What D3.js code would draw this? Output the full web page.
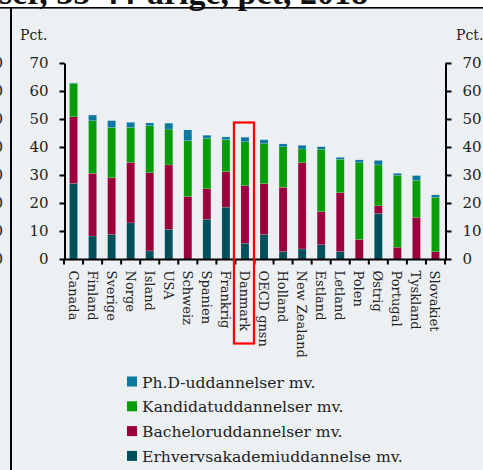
<!DOCTYPE html>
<html><head><meta charset="utf-8">
<script src="https://cdn.jsdelivr.net/npm/d3@7"></script>
<style>body{margin:0;background:#fff}svg{display:block}</style>
</head><body><div id="c"></div>
<script>
const categories = ["Canada","Finland","Sverige","Norge","Island","USA","Schweiz","Spanien","Frankrig","Danmark","OECD gnsn","Holland","New Zealand","Estland","Letland","Polen","Østrig","Portugal","Tyskland","Slovakiet"];
const erhverv   = [27.0, 8.2, 8.8, 12.9, 2.9, 10.6, 0.0, 14.2, 18.5, 5.6, 8.8, 2.7, 3.6, 5.1, 2.7, 0.0, 16.3, 0.0, 0.0, 0.0];
const bachelor  = [23.8, 22.4, 20.2, 21.6, 27.9, 23.0, 22.3, 10.9, 12.7, 20.6, 18.1, 22.9, 30.8, 11.8, 21.0, 7.0, 2.7, 4.2, 14.9, 2.6];
const kandidat  = [11.9, 18.8, 18.0, 12.5, 16.8, 12.8, 20.0, 18.0, 11.5, 15.7, 14.3, 14.5, 4.9, 22.3, 11.9, 27.4, 14.6, 25.7, 13.2, 19.4];
const phd       = [0.2, 2.0, 2.4, 1.8, 1.0, 2.1, 3.8, 1.1, 0.9, 1.6, 1.4, 1.0, 1.3, 0.9, 0.7, 1.0, 1.6, 0.7, 1.7, 0.9];
const seriesNames = ["Erhvervsakademiuddannelse mv.","Bacheloruddannelser mv.","Kandidatuddannelser mv.","Ph.D-uddannelser mv."];
const seriesColors = ["#004f5b","#9b003d","#089c08","#0b78a0"];
const yTicks = [0,10,20,30,40,50,60,70];
const highlight = "Danmark";

const W = 483, H = 470;
const svg = d3.select("#c").append("svg").attr("width", W).attr("height", H);
const serif = "'DejaVu Serif', 'Liberation Serif', serif";
const tserif = "'Liberation Serif', serif";

// backgrounds
svg.append("rect").attr("width", W).attr("height", H).attr("fill", "#ecf0f3");
svg.append("rect").attr("width", W).attr("height", 7).attr("fill", "#ffffff");
svg.append("text").attr("x", -1).attr("y", 4).attr("font-family", tserif).attr("font-weight", "bold")
  .attr("font-size", 34).attr("fill", "#111").text("ser, 35-44-årige, pct, 2018");
svg.append("rect").attr("x", 0).attr("y", 7).attr("width", W).attr("height", 1.6).attr("fill", "#000");
svg.append("rect").attr("x", 10).attr("y", 7).attr("width", 2).attr("height", H).attr("fill", "#000");

const y = d3.scaleLinear().domain([0,70]).range([259, 63]);
const x = d3.scaleBand().domain(categories).range([64, 445]).paddingInner(0.58).paddingOuter(0.29);
const xb = d3.scaleBand().domain(categories).range([64, 445]);

// neighbour panel cut digits
svg.append("g").selectAll("text").data(yTicks).join("text")
  .attr("x", 3).attr("y", d => y(d) + 5).attr("text-anchor", "end")
  .attr("font-family", serif).attr("font-size", 15).attr("fill", "#222").text(d => d);

const rows = categories.map((c,i) => ({cat:c, e:erhverv[i], b:bachelor[i], k:kandidat[i], p:phd[i]}));
const stack = d3.stack().keys(["e","b","k","p"]);
const layers = stack(rows);

svg.append("g").selectAll("g").data(layers).join("g")
  .attr("fill", (d,i) => seriesColors[i])
  .selectAll("rect").data(d => d).join("rect")
  .attr("x", d => x(d.data.cat)).attr("width", x.bandwidth())
  .attr("y", d => y(d[1])).attr("height", d => Math.max(0, y(d[0]) - y(d[1])))
  .attr("stroke", "rgba(255,255,255,0.25)").attr("stroke-width", 0.5);

// axes
const fontSize = 15;
const yl = svg.append("g").attr("transform", "translate(64.5,0)")
  .call(d3.axisLeft(y).tickValues(yTicks).tickSize(5).tickSizeOuter(0).tickPadding(11));
const yr = svg.append("g").attr("transform", "translate(445.5,0)")
  .call(d3.axisRight(y).tickValues(yTicks).tickSize(6).tickSizeOuter(0).tickPadding(11));
[yl, yr].forEach(g => {
  g.select(".domain").attr("stroke", "#000").attr("stroke-width", 2);
  g.selectAll(".tick line").attr("stroke", "#000").attr("stroke-width", 2);
  g.selectAll("text").attr("font-family", serif).attr("font-size", fontSize).attr("fill", "#222");
});

const xa = svg.append("g").attr("transform", "translate(0,259.5)");
xa.append("line").attr("x1", 63.5).attr("x2", 446.5).attr("stroke", "#000").attr("stroke-width", 2);
xa.selectAll("line.t").data(categories.concat(["_end"])).join("line").attr("class","t")
  .attr("x1", (d,i) => i < categories.length ? xb(d) : 445).attr("x2", (d,i) => i < categories.length ? xb(d) : 445)
  .attr("y1", 0).attr("y2", 5).attr("stroke", "#000").attr("stroke-width", 2);
xa.selectAll("text").data(categories).join("text")
  .attr("transform", d => `translate(${x(d) + x.bandwidth()/2 - 5},${11}) rotate(90)`)
  .attr("font-family", serif).attr("font-size", 13).attr("fill", "#222").text(d => d);

// Pct labels
svg.append("text").attr("x", 20).attr("y", 40).attr("font-family", serif).attr("font-size", 14).attr("fill", "#222").text("Pct.");
svg.append("text").attr("x", 456).attr("y", 40).attr("font-family", serif).attr("font-size", 14).attr("fill", "#222").text("Pct.");

// highlight box
const hx = xb(highlight);
svg.append("rect").attr("x", hx - 1.5).attr("y", 122.5).attr("width", xb.bandwidth() + 1).attr("height", 221)
  .attr("fill", "none").attr("stroke", "#ff0000").attr("stroke-width", 2.2);

// legend
const legOrder = [3,2,1,0];
const lg = svg.append("g").selectAll("g").data(legOrder).join("g")
  .attr("transform", (d,i) => `translate(127,${381.5 + i*24.8})`);
lg.append("rect").attr("x", 0).attr("y", -5).attr("width", 10).attr("height", 10).attr("fill", d => seriesColors[d]);
lg.append("text").attr("x", 15).attr("y", 6).attr("font-family", serif).attr("font-size", 15.6).attr("fill", "#222")
  .text(d => seriesNames[d]);
</script></body></html>
